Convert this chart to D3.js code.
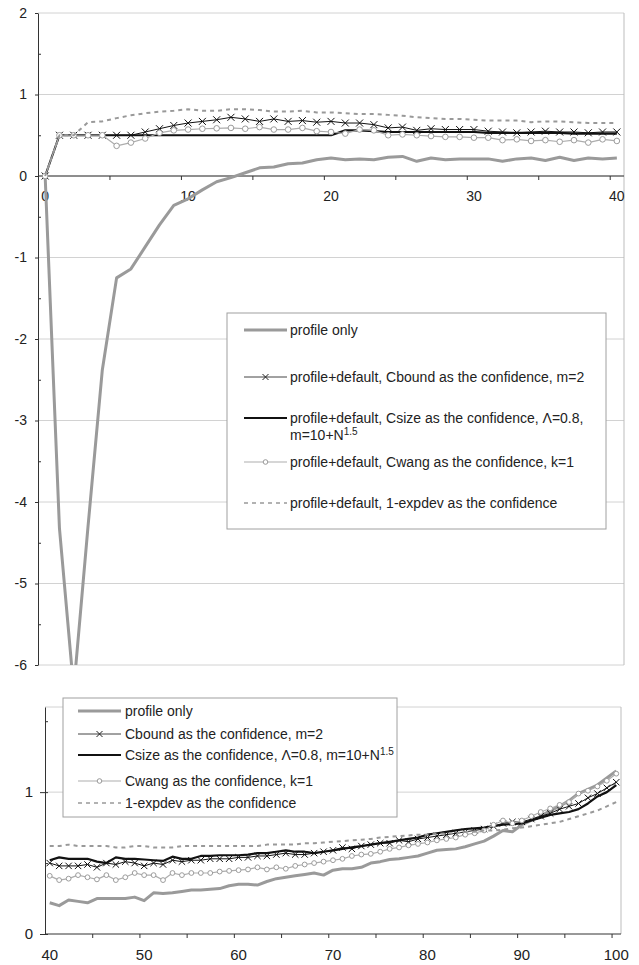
<!DOCTYPE html>
<html>
<head>
<meta charset="utf-8">
<script src="https://cdn.jsdelivr.net/npm/d3@7"></script>
<style>
body { margin: 0; background: #fff; }
svg { display: block; font-family: "Liberation Sans", Arial, sans-serif; }
.axis path, .axis line { stroke: #333; }
.axis text { fill: #222; }
</style>
</head>
<body>
<svg id="chart" width="639" height="965"></svg>
<script>
// ---- data: top panel, neighbourhood size 0..40 ----
const topCategories = [0, 1, 2, 3, 4, 5, 6, 7, 8, 9, 10, 11, 12, 13, 14, 15, 16, 17, 18, 19, 20,
    21, 22, 23, 24, 25, 26, 27, 28, 29, 30, 31, 32, 33, 34, 35, 36, 37, 38, 39, 40];
const topTickLabels = [0, 10, 20, 30, 40];
const topYTicks = [-6, -5, -4, -3, -2, -1, 0, 1, 2];

const profileTop = [0, -4.32, -6.3, -4.3, -2.38, -1.25, -1.14, -0.87, -0.6, -0.36, -0.28,
    -0.17, -0.07, -0.02, 0.04, 0.1, 0.11, 0.15, 0.16, 0.2, 0.22, 0.2, 0.21, 0.2, 0.23, 0.24,
    0.18, 0.22, 0.2, 0.21, 0.21, 0.21, 0.18, 0.21, 0.22, 0.19, 0.23, 0.19, 0.22, 0.21, 0.22];
const cboundTop = [0, 0.5, 0.5, 0.5, 0.5, 0.5, 0.5, 0.54, 0.58, 0.62, 0.65, 0.67, 0.69, 0.72,
    0.7, 0.67, 0.7, 0.67, 0.68, 0.66, 0.67, 0.65, 0.65, 0.63, 0.59, 0.6, 0.56, 0.58, 0.57, 0.57,
    0.57, 0.55, 0.54, 0.53, 0.54, 0.55, 0.54, 0.54, 0.53, 0.54, 0.54];
const csizeTop = [0, 0.5, 0.5, 0.5, 0.5, 0.5, 0.5, 0.5, 0.5, 0.5, 0.5, 0.5, 0.5, 0.5, 0.5, 0.5,
    0.5, 0.5, 0.5, 0.5, 0.5, 0.56, 0.56, 0.55, 0.54, 0.54, 0.54, 0.54, 0.54, 0.54, 0.54, 0.53,
    0.53, 0.53, 0.53, 0.53, 0.53, 0.52, 0.52, 0.52, 0.52];
const cwangTop = [0, 0.5, 0.5, 0.5, 0.5, 0.37, 0.41, 0.46, 0.53, 0.56, 0.57, 0.58, 0.585, 0.59,
    0.58, 0.6, 0.57, 0.57, 0.59, 0.55, 0.54, 0.52, 0.57, 0.56, 0.5, 0.51, 0.5, 0.49, 0.48, 0.48,
    0.47, 0.47, 0.44, 0.45, 0.43, 0.44, 0.42, 0.44, 0.41, 0.45, 0.43];
const expdevTop = [0, 0.5, 0.5, 0.66, 0.67, 0.71, 0.745, 0.77, 0.79, 0.8, 0.82, 0.8, 0.8, 0.82,
    0.82, 0.81, 0.79, 0.79, 0.8, 0.78, 0.78, 0.77, 0.76, 0.76, 0.75, 0.74, 0.72, 0.71, 0.7, 0.7,
    0.69, 0.68, 0.68, 0.68, 0.66, 0.67, 0.67, 0.66, 0.65, 0.65, 0.65];

// ---- data: bottom panel, 40..100 ----
const bottomCategories = [40, 41, 42, 43, 44, 45, 46, 47, 48, 49, 50, 51, 52, 53, 54, 55, 56, 57,
    58, 59, 60, 61, 62, 63, 64, 65, 66, 67, 68, 69, 70, 71, 72, 73, 74, 75, 76, 77, 78, 79, 80,
    81, 82, 83, 84, 85, 86, 87, 88, 89, 90, 91, 92, 93, 94, 95, 96, 97, 98, 99, 100];
const bottomTickLabels = [40, 50, 60, 70, 80, 90, 100];

const profileBottom = [0.22, 0.2, 0.24, 0.23, 0.22, 0.25, 0.25, 0.25, 0.25, 0.26, 0.235, 0.29,
    0.285, 0.29, 0.3, 0.31, 0.31, 0.315, 0.32, 0.34, 0.35, 0.35, 0.345, 0.37, 0.39, 0.4, 0.41,
    0.42, 0.43, 0.415, 0.45, 0.46, 0.46, 0.47, 0.5, 0.51, 0.525, 0.53, 0.54, 0.55, 0.57, 0.59,
    0.595, 0.6, 0.615, 0.635, 0.655, 0.69, 0.73, 0.72, 0.77, 0.8, 0.83, 0.87, 0.9, 0.94, 0.99,
    1.02, 1.05, 1.1, 1.15];
const cboundBottom = [0.5, 0.48, 0.48, 0.48, 0.49, 0.47, 0.5, 0.49, 0.51, 0.5, 0.48, 0.5, 0.49,
    0.52, 0.51, 0.52, 0.52, 0.53, 0.53, 0.53, 0.54, 0.54, 0.55, 0.55, 0.56, 0.57, 0.56, 0.56,
    0.57, 0.58, 0.59, 0.61, 0.6, 0.62, 0.63, 0.64, 0.64, 0.66, 0.65, 0.67, 0.68, 0.69, 0.7, 0.71,
    0.72, 0.73, 0.74, 0.76, 0.78, 0.79, 0.79, 0.81, 0.83, 0.85, 0.88, 0.9, 0.92, 0.96, 0.99,
    1.03, 1.07];
const csizeBottom = [0.52, 0.54, 0.53, 0.53, 0.53, 0.51, 0.5, 0.54, 0.53, 0.53, 0.525, 0.52,
    0.515, 0.545, 0.53, 0.53, 0.55, 0.55, 0.555, 0.555, 0.555, 0.56, 0.57, 0.57, 0.58, 0.59,
    0.58, 0.58, 0.57, 0.58, 0.59, 0.6, 0.61, 0.62, 0.63, 0.64, 0.65, 0.66, 0.67, 0.68, 0.7, 0.71,
    0.72, 0.73, 0.74, 0.745, 0.75, 0.76, 0.77, 0.775, 0.78, 0.8, 0.82, 0.84, 0.85, 0.86, 0.88,
    0.92, 0.97, 1.0, 1.05];
const cwangBottom = [0.41, 0.38, 0.39, 0.415, 0.4, 0.385, 0.415, 0.38, 0.4, 0.43, 0.415, 0.415,
    0.38, 0.43, 0.415, 0.43, 0.43, 0.43, 0.44, 0.445, 0.45, 0.455, 0.47, 0.455, 0.47, 0.46, 0.48,
    0.49, 0.5, 0.51, 0.52, 0.53, 0.55, 0.56, 0.565, 0.58, 0.6, 0.61, 0.625, 0.635, 0.645, 0.66,
    0.67, 0.68, 0.7, 0.71, 0.73, 0.77, 0.8, 0.78, 0.8, 0.83, 0.86, 0.885, 0.91, 0.93, 0.99, 1.01,
    1.04, 1.08, 1.13];
const expdevBottom = [0.62, 0.62, 0.63, 0.62, 0.62, 0.62, 0.62, 0.61, 0.61, 0.62, 0.62, 0.61,
    0.61, 0.61, 0.62, 0.62, 0.62, 0.62, 0.62, 0.62, 0.62, 0.62, 0.62, 0.63, 0.63, 0.63, 0.63,
    0.64, 0.64, 0.645, 0.65, 0.655, 0.66, 0.665, 0.67, 0.68, 0.685, 0.69, 0.695, 0.7, 0.7, 0.705,
    0.71, 0.71, 0.72, 0.72, 0.73, 0.73, 0.735, 0.745, 0.75, 0.76, 0.77, 0.78, 0.79, 0.81, 0.83,
    0.85, 0.87, 0.9, 0.93];

// ---- styles ----
const seriesStyle = {
    profile: { stroke: "#9a9a9a", width: 3 },
    cbound: { stroke: "#111", width: 1, marker: "x" },
    csize: { stroke: "#111", width: 2.2 },
    cwang: { stroke: "#adadad", width: 1.2, marker: "o" },
    expdev: { stroke: "#999", width: 2, dash: "4,4" }
};

const svg = d3.select("#chart");

function drawPanel(opt) {
    const g = svg.append("g");
    const x = d3.scaleBand().domain(opt.categories).range([opt.left, opt.right]).padding(0);
    const xEdge = d3.scaleLinear().domain([0, opt.categories.length]).range([opt.left, opt.right]);
    const y = d3.scaleLinear().domain(opt.yDomain).range([opt.bottom, opt.top]);
    const cx = c => x(c) + x.bandwidth() / 2;

    // grid + border
    g.append("g").selectAll("line")
        .data(opt.gridValues)
        .enter().append("line")
        .attr("x1", opt.left).attr("x2", opt.right)
        .attr("y1", d => y(d)).attr("y2", d => y(d))
        .attr("stroke", "#d2d2d2").attr("stroke-width", 1);
    g.append("line")
        .attr("x1", opt.right).attr("x2", opt.right)
        .attr("y1", opt.top).attr("y2", opt.bottom)
        .attr("stroke", "#bdbdbd");

    // axes
    const y0 = y(opt.xAxisAt);
    g.append("g").attr("class", "axis")
        .attr("transform", `translate(0,${y0})`)
        .call(d3.axisBottom(xEdge).tickValues(d3.range(5, opt.categories.length, 5))
            .tickSize(4).tickSizeOuter(0).tickFormat(""))
        .select(".domain").remove();
    g.append("line")
        .attr("x1", opt.left).attr("x2", opt.right)
        .attr("y1", y0).attr("y2", y0)
        .attr("stroke", "#333");
    g.append("g").attr("class", "axis")
        .attr("transform", `translate(0,${y0})`)
        .style("font-size", opt.tickFont + "px")
        .call(d3.axisBottom(x).tickValues(opt.tickLabels).tickSize(0).tickPadding(15))
        .call(s => s.select(".domain").remove());

    g.append("g").attr("class", "axis")
        .attr("transform", `translate(${opt.left},0)`)
        .style("font-size", opt.tickFont + "px")
        .call(d3.axisLeft(y).tickValues(opt.majorTicks).tickSize(opt.majorOut)
            .tickSizeOuter(0).tickPadding(opt.labelPad).tickFormat(d => String(d)));
    g.append("g").attr("class", "axis")
        .attr("transform", `translate(${opt.left},0)`)
        .call(d3.axisRight(y).tickValues(opt.minorTicks).tickSize(3).tickSizeOuter(0).tickFormat(""))
        .select(".domain").remove();

    // series
    const clipId = "clip" + opt.id;
    svg.append("clipPath").attr("id", clipId).append("rect")
        .attr("x", opt.left).attr("y", opt.top - 6)
        .attr("width", opt.right - opt.left + 6).attr("height", opt.bottom - opt.top + 6);
    const plot = g.append("g").attr("clip-path", `url(#${clipId})`);

    opt.series.forEach(s => {
        const st = seriesStyle[s.key];
        const pts = opt.categories.map((c, i) => ({ c, v: s.values[i] }));
        const line = d3.line().x(d => cx(d.c)).y(d => y(d.v));
        plot.append("path")
            .datum(pts)
            .attr("fill", "none")
            .attr("stroke", st.stroke)
            .attr("stroke-width", st.width)
            .attr("stroke-dasharray", st.dash || null)
            .attr("stroke-linejoin", "round")
            .attr("d", line);
        if (st.marker === "x") {
            plot.append("g").selectAll("path")
                .data(pts).enter().append("path")
                .attr("transform", d => `translate(${cx(d.c)},${y(d.v)})`)
                .attr("d", `M${-opt.mk},${-opt.mk}L${opt.mk},${opt.mk}M${-opt.mk},${opt.mk}L${opt.mk},${-opt.mk}`)
                .attr("stroke", "#111").attr("stroke-width", 1);
        }
        if (st.marker === "o") {
            plot.append("g").selectAll("circle")
                .data(pts).enter().append("circle")
                .attr("cx", d => cx(d.c)).attr("cy", d => y(d.v))
                .attr("r", opt.mr)
                .attr("fill", "#fff").attr("stroke", "#9c9c9c").attr("stroke-width", 1);
        }
    });
    return g;
}

function drawLegend(box, entries) {
    const g = svg.append("g");
    g.append("rect")
        .attr("x", box.x).attr("y", box.y).attr("width", box.w).attr("height", box.h)
        .attr("fill", "#fff").attr("stroke", "#a0a0a0");
    entries.forEach(e => {
        const st = seriesStyle[e.key];
        g.append("line")
            .attr("x1", box.sx0).attr("x2", box.sx1).attr("y1", e.y).attr("y2", e.y)
            .attr("stroke", e.key === "cbound" ? "#444" : st.stroke)
            .attr("stroke-width", e.key === "expdev" ? 1.3 : st.width)
            .attr("stroke-dasharray", st.dash ? "4,4" : null);
        const mx = (box.sx0 + box.sx1) / 2;
        if (st.marker === "x") {
            g.append("path")
                .attr("d", `M${mx - 3},${e.y - 3}L${mx + 3},${e.y + 3}M${mx - 3},${e.y + 3}L${mx + 3},${e.y - 3}`)
                .attr("stroke", "#222");
        }
        if (st.marker === "o") {
            g.append("circle").attr("cx", mx).attr("cy", e.y).attr("r", 2.3)
                .attr("fill", "#fff").attr("stroke", "#999");
        }
        const gap = e.lineGap || 0;
        e.lines.forEach((ln, i) => {
            const t = g.append("text")
                .attr("x", box.tx).attr("y", e.y + 5 + i * gap)
                .style("font-size", "14px").attr("fill", "#222");
            ln.forEach(part => {
                if (part.sup) {
                    t.append("tspan").attr("dy", -5).style("font-size", "10px").text(part.sup);
                } else {
                    t.append("tspan").text(part.t);
                }
            });
        });
    });
}

// top panel
drawPanel({
    id: "top", categories: topCategories, left: 38, right: 624, top: 13, bottom: 665,
    yDomain: [-6, 2], gridValues: topYTicks, xAxisAt: 0, tickLabels: topTickLabels,
    majorTicks: topYTicks, minorTicks: [-5.5, -4.5, -3.5, -2.5, -1.5, -0.5, 0.5, 1.5],
    majorOut: 3, labelPad: 8, tickFont: 14, mk: 3.5, mr: 2.8,
    series: [
        { key: "profile", values: profileTop },
        { key: "cbound", values: cboundTop },
        { key: "csize", values: csizeTop },
        { key: "cwang", values: cwangTop },
        { key: "expdev", values: expdevTop }
    ]
});

// bottom panel
drawPanel({
    id: "bottom", categories: bottomCategories, left: 45, right: 621, top: 707, bottom: 934,
    yDomain: [0, 1.6], gridValues: [1, 1.6], xAxisAt: 0, tickLabels: bottomTickLabels,
    majorTicks: [0, 1], minorTicks: [0, 0.5, 1, 1.5],
    majorOut: 5, labelPad: 7, tickFont: 15, mk: 3.2, mr: 2.4,
    series: [
        { key: "profile", values: profileBottom },
        { key: "cbound", values: cboundBottom },
        { key: "csize", values: csizeBottom },
        { key: "cwang", values: cwangBottom },
        { key: "expdev", values: expdevBottom }
    ]
});

drawLegend({ x: 227, y: 313, w: 379, h: 216, sx0: 244, sx1: 287, tx: 290 }, [
    { key: "profile", y: 330, lines: [[{ t: "profile only" }]] },
    { key: "cbound", y: 377, lines: [[{ t: "profile+default, Cbound as the confidence, m=2" }]] },
    { key: "csize", y: 418, lineGap: 17, lines: [
        [{ t: "profile+default, Csize as the confidence, Λ=0.8," }],
        [{ t: "m=10+N" }, { sup: "1.5" }]
    ] },
    { key: "cwang", y: 462, lines: [[{ t: "profile+default, Cwang as the confidence, k=1" }]] },
    { key: "expdev", y: 503, lines: [[{ t: "profile+default, 1-expdev as the confidence" }]] }
]);

drawLegend({ x: 63, y: 698, w: 334, h: 119, sx0: 78, sx1: 121, tx: 125 }, [
    { key: "profile", y: 711, lines: [[{ t: "profile only" }]] },
    { key: "cbound", y: 734, lines: [[{ t: "Cbound as the confidence, m=2" }]] },
    { key: "csize", y: 755, lines: [[{ t: "Csize as the confidence, Λ=0.8, m=10+N" }, { sup: "1.5" }]] },
    { key: "cwang", y: 781, lines: [[{ t: "Cwang as the confidence, k=1" }]] },
    { key: "expdev", y: 803, lines: [[{ t: "1-expdev as the confidence" }]] }
]);
</script>
</body>
</html>
